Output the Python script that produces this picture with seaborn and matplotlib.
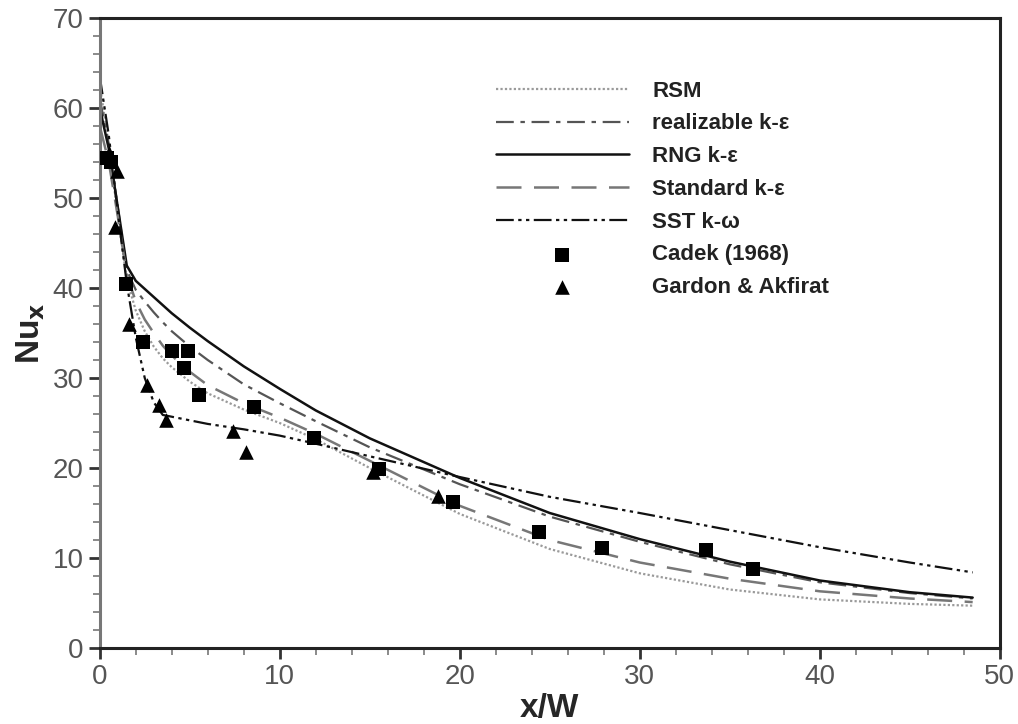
import numpy as np
import pandas as pd
import matplotlib
matplotlib.use("Agg")
import matplotlib.pyplot as plt
import seaborn as sns
from matplotlib.ticker import MultipleLocator

# ---- data ----
x_sim = [0, 0.5, 1, 1.5, 2, 2.5, 3, 3.5, 4, 5, 6, 8, 10, 12, 15, 20, 25, 30, 35, 40, 45, 48.5]
rsm = [62.5, 56, 48, 41, 37.5, 35.2, 33.5, 32.2, 31.2, 29.6, 28.3, 26.5, 25.0, 23.2, 20.0, 14.9, 11.0, 8.3, 6.5, 5.4, 4.9, 4.7]
realizable = [61, 56, 49, 42, 39.8, 38.5, 37.3, 36.2, 35.2, 33.5, 32.0, 29.3, 27.2, 25.2, 22.3, 18.2, 14.6, 11.8, 9.3, 7.3, 6.1, 5.5]
rng = [60, 55.5, 49, 42.5, 40.8, 39.9, 39.0, 38.1, 37.2, 35.6, 34.1, 31.3, 28.8, 26.4, 23.3, 18.9, 15.0, 12.1, 9.6, 7.5, 6.2, 5.6]
standard = [58, 54, 48, 41.5, 38.5, 36.5, 35.0, 33.6, 32.5, 30.7, 29.2, 27.2, 25.6, 23.8, 20.8, 15.8, 12.0, 9.5, 7.7, 6.3, 5.5, 5.1]
sst = [63.5, 57, 48.5, 40.5, 34.5, 30.0, 27.3, 25.9, 25.7, 25.3, 24.9, 24.3, 23.6, 22.7, 21.3, 19.0, 16.8, 15.0, 13.1, 11.2, 9.5, 8.4]

cadek_x = [0.4, 0.6, 1.45, 2.4, 4.0, 4.9, 4.7, 5.5, 8.55, 11.9, 15.5, 19.6, 24.4, 27.9, 33.7, 36.3]
cadek_y = [54.5, 54.0, 40.5, 34.0, 33.0, 33.0, 31.1, 28.1, 26.8, 23.3, 19.9, 16.2, 12.9, 11.1, 10.9, 8.8]

gardon_x = [0.5, 0.95, 0.85, 1.6, 2.6, 3.3, 3.7, 7.4, 8.1, 15.2, 18.8]
gardon_y = [55.0, 53.0, 46.8, 36.0, 29.2, 27.0, 25.3, 24.1, 21.8, 19.6, 16.9]

series_names = ["RSM", "realizable k-\u03b5", "RNG k-\u03b5", "Standard k-\u03b5", "SST k-\u03c9"]
series_vals = [rsm, realizable, rng, standard, sst]

# ---- style ----
sns.set_style("ticks")
plt.rcParams['font.family'] = ['Liberation Sans', 'DejaVu Sans']

fig = plt.figure(figsize=(10.18, 7.24), dpi=100)
ax = fig.add_axes([0.098, 0.105, 0.884, 0.870])

styles = {
    "RSM": dict(color="#9a9a9a", ls=(0, (1, 1)), lw=1.6),
    "realizable k-\u03b5": dict(color="#555555", ls=(0, (8, 3, 2, 3)), lw=1.6),
    "RNG k-\u03b5": dict(color="#111111", ls="-", lw=1.8),
    "Standard k-\u03b5": dict(color="#777777", ls=(0, (10, 5)), lw=1.8),
    "SST k-\u03c9": dict(color="#111111", ls=(0, (8, 2, 1.5, 2, 1.5, 2)), lw=1.6),
}

for name, vals in zip(series_names, series_vals):
    df = pd.DataFrame({"x": x_sim, "y": vals})
    st = styles[name]
    sns.lineplot(data=df, x="x", y="y", ax=ax, color=st["color"], lw=st["lw"],
                 linestyle=st["ls"], label=name, sort=False)

dfc = pd.DataFrame({"x": cadek_x, "y": cadek_y})
sns.scatterplot(data=dfc, x="x", y="y", ax=ax, marker="s", s=110, color="black",
                edgecolor="black", linewidth=0, label="Cadek (1968)", zorder=5)
dfg = pd.DataFrame({"x": gardon_x, "y": gardon_y})
sns.scatterplot(data=dfg, x="x", y="y", ax=ax, marker="^", s=110, color="black",
                edgecolor="black", linewidth=0, label="Gardon & Akfirat", zorder=5)

ax.set_xlim(0, 50)
ax.set_ylim(0, 70)
ax.xaxis.set_major_locator(MultipleLocator(10))
ax.xaxis.set_minor_locator(MultipleLocator(2))
ax.yaxis.set_major_locator(MultipleLocator(10))
ax.yaxis.set_minor_locator(MultipleLocator(2))
ax.tick_params(axis="both", which="major", direction="out", length=8, width=2,
               labelsize=20, colors="#333333", labelcolor="#555555")
ax.tick_params(axis="both", which="minor", direction="out", length=5, width=1.2, colors="#777777")
ax.tick_params(top=False, right=False, which="both")

for sp in ax.spines.values():
    sp.set_visible(True)
    sp.set_color("#222222")
    sp.set_linewidth(2.2)
ax.spines["left"].set_color("#777777")

ax.set_xlabel("x/W", fontsize=24, fontweight="bold", labelpad=2)
ax.set_ylabel("Nu$_\\mathbf{x}$", fontsize=24, fontweight="bold", labelpad=4)

leg = ax.legend(loc="upper left", bbox_to_anchor=(0.43, 0.915), frameon=False,
                handlelength=6.0, handletextpad=1.05, labelspacing=0.53,
                borderaxespad=0, prop={"weight": "bold", "size": 16})
for t in leg.get_texts():
    t.set_color("#222222")

fig.savefig("out.png", dpi=100, facecolor="white")
